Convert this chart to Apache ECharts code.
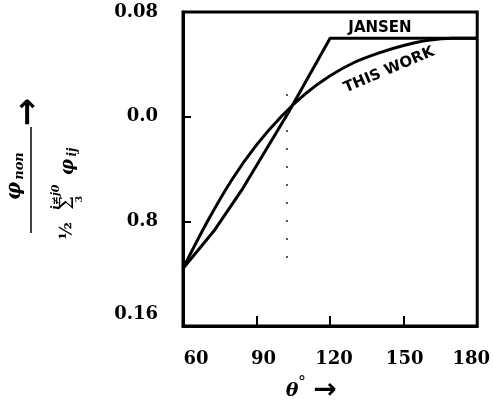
<!DOCTYPE html>
<html>
<head>
<meta charset="utf-8">
<script src="https://cdn.jsdelivr.net/npm/echarts@6/dist/echarts.min.js"></script>
<style>
html,body{margin:0;padding:0;background:#fff;}
#c{width:493px;height:406px;}
</style>
</head>
<body>
<div id="c"></div>
<script>
// ---- data ----
const xTicks = [60, 90, 120, 150, 180];
const yTickLabels = ['0.16', '0.8', '0.0', '0.08']; // bottom -> top, at positions 0..3
const jansenTheta = [60, 73, 84, 103, 120, 180];
const jansenValue = [0.55, 0.92, 1.30, 2.04, 2.75, 2.75];
const workTheta = [60, 70, 80, 90, 100, 110, 120, 130, 140, 150, 160, 170, 180];
const workValue = [0.55, 1.00, 1.40, 1.73, 2.00, 2.22, 2.39, 2.52, 2.61, 2.68, 2.73, 2.75, 2.75];
const dotLineTheta = 102.4;
const dotLineRange = [0.65, 2.27];

const chart = echarts.init(document.getElementById('c'), null, {renderer: 'canvas'});
const serif = '"DejaVu Serif", "Liberation Serif", serif';
const sans = '"DejaVu Sans", "Liberation Sans", sans-serif';
const tickFont = {fontFamily: serif, fontSize: 18, fontWeight: 'bold', color: '#000'};

const xRich = {
  a60: {padding: [0, 0, 0, 26]},
  a90: {padding: [0, 0, 0, 14]},
  a120: {padding: [0, 0, 0, 8]},
  a150: {padding: [0, 0, 0, 2]},
  a180: {padding: [0, 12, 0, 0]}
};
Object.keys(xRich).forEach(k => Object.assign(xRich[k], tickFont));

const option = {
  animation: false,
  backgroundColor: '#fff',
  grid: {left: 183, right: 10, top: 12, bottom: 80, show: true, borderColor: '#000', borderWidth: 3, backgroundColor: 'transparent'},
  xAxis: {
    type: 'value', min: 60, max: 180, interval: 30,
    axisLine: {show: true, lineStyle: {color: '#000', width: 3}},
    axisTick: {show: true, inside: true, length: 10, lineStyle: {color: '#000', width: 2}},
    splitLine: {show: false},
    axisLabel: Object.assign({
      margin: 24,
      formatter: v => '{a' + v + '|' + v + '}',
      rich: xRich
    }, tickFont)
  },
  yAxis: {
    type: 'value', min: 0, max: 3, interval: 1,
    axisLine: {show: true, lineStyle: {color: '#000', width: 3}},
    axisTick: {show: true, inside: true, length: 8, lineStyle: {color: '#000', width: 2}},
    splitLine: {show: false},
    axisLabel: Object.assign({
      margin: 25,
      formatter: v => {
        const i = Math.round(v);
        return i === 0 ? '{b|' + yTickLabels[i] + '}' : '{n|' + yTickLabels[i] + '}';
      },
      rich: {
        b: Object.assign({padding: [0, 0, 24, 0]}, tickFont),
        n: Object.assign({}, tickFont)
      }
    }, tickFont)
  },
  series: [
    {
      name: 'JANSEN', type: 'line', symbol: 'none',
      data: jansenTheta.map((t, i) => [t, jansenValue[i]]),
      lineStyle: {color: '#000', width: 3},
      markLine: {
        silent: true, symbol: 'none', label: {show: false},
        lineStyle: {color: '#222', width: 1.5, type: [2, 16]},
        data: [[{coord: [dotLineTheta, dotLineRange[0]]}, {coord: [dotLineTheta, dotLineRange[1]]}]]
      }
    },
    {
      name: 'THIS WORK', type: 'line', symbol: 'none', smooth: 0.3,
      data: workTheta.map((t, i) => [t, workValue[i]]),
      lineStyle: {color: '#000', width: 3}
    }
  ],
  graphic: [
    {type: 'text', x: 380, y: 28, style: {text: 'JANSEN', font: 'bold 15px ' + sans, fill: '#000', align: 'center', verticalAlign: 'middle'}},
    {type: 'text', x: 389, y: 70, rotation: 0.4, style: {text: 'THIS WORK', font: 'bold 15px ' + sans, fill: '#000', align: 'center', verticalAlign: 'middle'}},
    // x-axis title
    {type: 'text', x: 292, y: 391, style: {text: 'θ', font: 'italic bold 19px ' + serif, fill: '#000', align: 'center', verticalAlign: 'middle'}},
    {type: 'text', x: 302, y: 383, style: {text: '°', font: '16px ' + serif, fill: '#000', align: 'center', verticalAlign: 'middle'}},
    {type: 'text', x: 325, y: 391, style: {text: '→', font: 'bold 28px ' + sans, fill: '#000', align: 'center', verticalAlign: 'middle'}},
    // y-axis title (rotated fraction)
    {
      type: 'group', x: 0, y: 240, rotation: Math.PI / 2,
      children: [
        {type: 'text', x: 49, y: 15, style: {text: 'φ', font: 'italic bold 20px ' + serif, fill: '#000', align: 'center', verticalAlign: 'middle'}},
        {type: 'text', x: 74, y: 20, style: {text: 'non', font: 'italic bold 13px ' + serif, fill: '#000', align: 'center', verticalAlign: 'middle'}},
        {type: 'line', shape: {x1: 7, y1: 31, x2: 113, y2: 31}, style: {stroke: '#000', lineWidth: 1.5}},
        {type: 'text', x: 128, y: 29, style: {text: '→', font: 'bold 34px ' + sans, fill: '#000', align: 'center', verticalAlign: 'middle'}},
        {type: 'text', x: 9, y: 67, style: {text: '½', font: 'bold 17px ' + serif, fill: '#000', align: 'center', verticalAlign: 'middle'}},
        {type: 'text', x: 37, y: 68, style: {text: 'Σ', font: '19px ' + serif, fill: '#000', align: 'center', verticalAlign: 'middle'}},
        {type: 'text', x: 43, y: 56, style: {text: 'i≠j0', font: 'italic bold 11px ' + serif, fill: '#000', align: 'center', verticalAlign: 'middle'}},
        {type: 'text', x: 41, y: 80, style: {text: '3', font: 'bold 9px ' + serif, fill: '#000', align: 'center', verticalAlign: 'middle'}},
        {type: 'text', x: 73, y: 68, style: {text: 'φ', font: 'italic bold 18px ' + serif, fill: '#000', align: 'center', verticalAlign: 'middle'}},
        {type: 'text', x: 88, y: 73, style: {text: 'ij', font: 'italic bold 12px ' + serif, fill: '#000', align: 'center', verticalAlign: 'middle'}}
      ]
    }
  ]
};
chart.setOption(option);
</script>
</body>
</html>
